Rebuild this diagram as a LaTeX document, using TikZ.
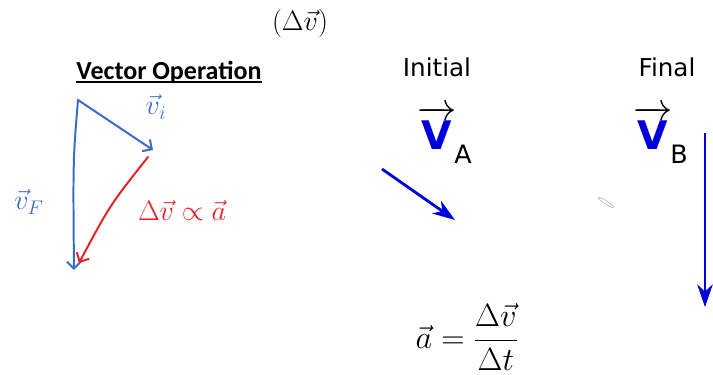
\RequirePackage{fix-cm}
\documentclass[tikz,border=0pt]{standalone}
\usepackage{amsmath}
\usepackage{fontspec}
\setmainfont{DejaVu Sans}
\newfontfamily\calibrifont{Carlito}
\usetikzlibrary{positioning, arrows.meta}
\definecolor{penblue}{RGB}{58,108,196}
\definecolor{penred}{RGB}{232,32,36}
\definecolor{vecblue}{RGB}{0,0,220}

\begin{document}
\begin{tikzpicture}[x=0.025cm, y=-0.025cm,
    lbl/.style={inner sep=0pt, font=\fontsize{17.5}{20}\selectfont},
    bigv/.style={inner sep=0pt, font=\fontsize{28}{32}\selectfont\bfseries},
    sub/.style={inner sep=0pt, font=\fontsize{18}{20}\selectfont},
    hand/.style={inner sep=0pt, font=\fontsize{20}{24}\selectfont},
    pen/.style={color=penblue, line width=1.4pt, line cap=round, line join=round,
                -{Straight Barb[length=5pt, width=10pt]}},
    arr/.style={-{Stealth[length=16pt, width=11pt, inset=5pt]}, line width=2pt, color=vecblue}]
  \useasboundingbox (0,0) rectangle (713,375);

  % headings
  \node[hand] (dv) at (300,23) {$(\Delta\vec{v})$};
  \node[inner sep=0pt, font=\calibrifont\bfseries\fontsize{18.5}{22}\selectfont] (title) at (169,72) {Vector Operation};
  \draw[line width=1.1pt] ([yshift=-2pt]title.base west) -- ([yshift=-2pt]title.base east);
  \node[lbl] (initial) at (437,67) {Initial};
  \node[lbl] (final) at (667,67) {Final};

  % vector triangle
  \coordinate (top) at (78,100);
  \coordinate (vi) at (153,150);
  \coordinate (vf) at (74,270);
  \coordinate (dvs) at (148,157);
  \coordinate (dve) at (79,263);
  \draw[pen] (top) -- (vi);
  \draw[pen] (top) .. controls (73,160) .. (vf);
  \draw[pen, color=penred] (dvs) .. controls (110,205) .. (dve);
  \node[hand, color=penblue] (lvi) at (156,107) {$\vec{v}_i$};
  \node[hand, color=penblue] (lvf) at (29,202) {$\vec{v}_F$};
  \node[hand, color=penred] (ldv) at (182,210) {$\Delta\vec{v}\propto\vec{a}$};

  % initial and final velocities
  \node[bigv, anchor=base] (va) at (437,149) {$\overrightarrow{\text{\color{vecblue}V}}$};
  \node[sub, anchor=base west] (sa) at ([xshift=-2pt, yshift=-10pt]va.base east) {A};
  \node[bigv, anchor=base] (vb) at (653,149) {$\overrightarrow{\text{\color{vecblue}V}}$};
  \node[sub, anchor=base west] (sb) at ([xshift=-2pt, yshift=-10pt]vb.base east) {B};
  \coordinate (as) at (382,169);
  \coordinate (ae) at (455,220);
  \coordinate (bs) at (705,133);
  \coordinate (be) at (705,307);
  \draw[arr] (as) -- (ae);
  \draw[arr] (bs) -- (be);
  \draw[gray!60, line width=0.4pt] (606,202.5) ellipse [x radius=9, y radius=1.6, rotate=-33];

  % acceleration
  \node[hand, font=\fontsize{23}{27}\selectfont] (acc) at (467,337) {$\vec{a} = \dfrac{\Delta\vec{v}}{\Delta t}$};
\end{tikzpicture}
\end{document}
